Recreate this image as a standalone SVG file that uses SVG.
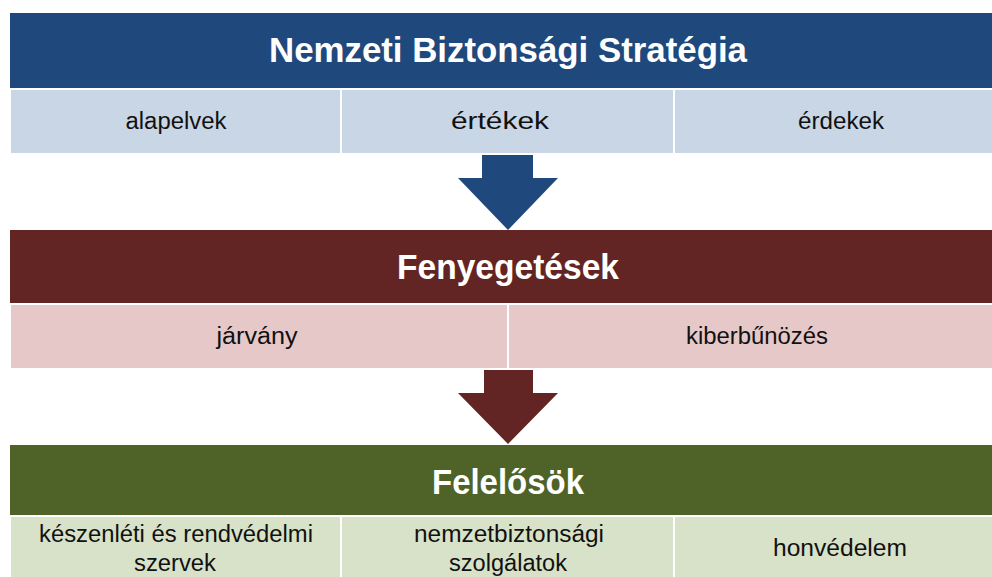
<svg xmlns="http://www.w3.org/2000/svg" width="992" height="577" viewBox="0 0 992 577">
<style>
.hd{font-family:"Liberation Sans",Arial,sans-serif;font-weight:bold;font-size:35px;fill:#ffffff;text-anchor:middle}
.tx{font-family:"Liberation Sans",Arial,sans-serif;font-size:23px;fill:#111111;text-anchor:middle}
.cell{stroke:#ffffff;stroke-width:2}
</style>
<rect width="992" height="577" fill="#ffffff"/>
<g id="nbs">
<rect x="10" y="13" width="984" height="76" fill="#1f497d"/>
<text class="hd" x="508" y="62" textLength="478" lengthAdjust="spacingAndGlyphs">Nemzeti Biztonsági Stratégia</text>
</g>
<g id="nbs-items">
<rect class="cell" x="10" y="89" width="331" height="65" fill="#c9d6e5"/>
<rect class="cell" x="341" y="89" width="333" height="65" fill="#c9d6e5"/>
<rect class="cell" x="674" y="89" width="320" height="65" fill="#c9d6e5"/>
<text class="tx" x="176" y="129" textLength="101" lengthAdjust="spacingAndGlyphs">alapelvek</text>
<text class="tx" x="500" y="129" textLength="98" lengthAdjust="spacingAndGlyphs">értékek</text>
<text class="tx" x="841" y="129" textLength="86" lengthAdjust="spacingAndGlyphs">érdekek</text>
</g>
<g id="fenyegetesek">
<rect x="10" y="230" width="984" height="74" fill="#632523"/>
<text class="hd" x="508" y="279" textLength="222" lengthAdjust="spacingAndGlyphs">Fenyegetések</text>
</g>
<g id="fenyegetesek-items">
<rect class="cell" x="10" y="304" width="498" height="65" fill="#e6c8c8"/>
<rect class="cell" x="508" y="304" width="486" height="65" fill="#e6c8c8"/>
<text class="tx" x="257" y="344" textLength="81" lengthAdjust="spacingAndGlyphs">járvány</text>
<text class="tx" x="757" y="344" textLength="142" lengthAdjust="spacingAndGlyphs">kiberbűnözés</text>
</g>
<g id="felelosok">
<rect x="10" y="445" width="984" height="71" fill="#4f6228"/>
<text class="hd" x="508" y="494" textLength="152" lengthAdjust="spacingAndGlyphs">Felelősök</text>
</g>
<g id="felelosok-items">
<rect class="cell" x="10" y="516" width="331" height="65" fill="#d8e2c8"/>
<rect class="cell" x="341" y="516" width="333" height="65" fill="#d8e2c8"/>
<rect class="cell" x="674" y="516" width="320" height="65" fill="#d8e2c8"/>
<text class="tx" x="176" y="542" textLength="274" lengthAdjust="spacingAndGlyphs">készenléti és rendvédelmi</text>
<text class="tx" x="175" y="571" textLength="82" lengthAdjust="spacingAndGlyphs">szervek</text>
<text class="tx" x="509" y="542" textLength="190" lengthAdjust="spacingAndGlyphs">nemzetbiztonsági</text>
<text class="tx" x="508" y="571" textLength="118" lengthAdjust="spacingAndGlyphs">szolgálatok</text>
<text class="tx" x="840" y="556" textLength="134" lengthAdjust="spacingAndGlyphs">honvédelem</text>
</g>
<g id="connectors">
<polygon points="482,155 533,155 533,178 558,178 508,230 458,178 482,178" fill="#1f497d"/>
<polygon points="484,370 533,370 533,393 558,393 508,444 458,393 484,393" fill="#632523"/>
</g>
</svg>
